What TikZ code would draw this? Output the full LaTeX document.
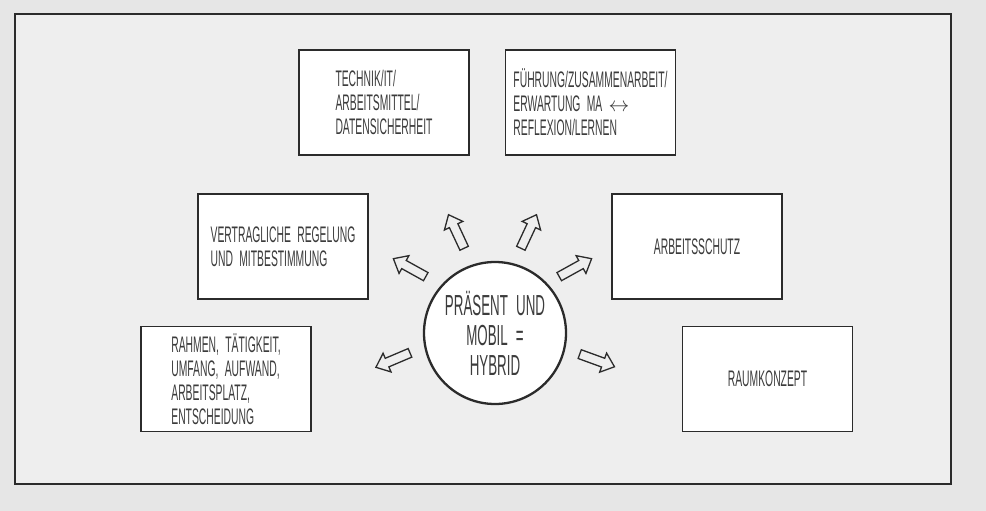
\documentclass[tikz,border=0pt]{standalone}
\usepackage{fontspec}
\setmainfont{Liberation Sans}[FakeStretch=0.46, WordSpace=2.2]
\usepackage{xcolor}
\usepackage{tikz}
\usetikzlibrary{shapes.arrows}
\definecolor{bg}{HTML}{E6E6E6}
\definecolor{panel}{HTML}{EEEEEE}
\definecolor{ink}{HTML}{2B2B2B}
\definecolor{pen}{HTML}{3C3C3C}
\tikzset{
  outer/.style={draw=ink, line width=2.4pt, fill=panel},
  card/.style={draw=ink, line width=1.6pt, fill=white, minimum width=170pt, minimum height=105pt,
    inner sep=2pt, align=left, text=pen, font=\fontsize{22.5}{24}\selectfont},
  hub/.style={circle, draw=ink, line width=2.3pt, fill=white, minimum size=142pt, inner sep=0pt,
    align=center, text=pen, font=\fontsize{29}{30}\selectfont},
  ray/.style={single arrow, draw=ink, line width=1.3pt, minimum height=37pt, inner sep=4pt,
    single arrow head extend=5.5pt, single arrow tip angle=80, single arrow head indent=0pt},
}

\begin{document}
\begin{tikzpicture}[x=1pt, y=-1pt]
  \fill[bg] (0,0) rectangle (986,511);
  \draw[outer] (15,14) rectangle (951,484);
  \node[card] (technik) at (384,102.5) {TECHNIK/IT/\\ARBEITSMITTEL/\\DATENSICHERHEIT};
  \node[card] (fuehrung) at (590.5,102.5) {FÜHRUNG/ZUSAMMENARBEIT/\\ERWARTUNG MA $\leftrightarrow$\\REFLEXION/LERNEN};
  \node[card] (vertrag) at (283,246.5) {VERTRAGLICHE REGELUNG\\UND MITBESTIMMUNG};
  \node[card] (schutz) at (697,246.5) {ARBEITSSCHUTZ};
  \node[card] (rahmen) at (226,379) {RAHMEN, TÄTIGKEIT,\\UMFANG, AUFWAND,\\ARBEITSPLATZ,\\ENTSCHEIDUNG};
  \node[card] (raum) at (767.5,379) {RAUMKONZEPT};
  \node[hub] (hybrid) at (495,333) {PRÄSENT UND\\MOBIL =\\HYBRID};
  \node[ray, rotate=115] (r1) at (457.5,234) {};
  \node[ray, rotate=65] (r2) at (527.5,234) {};
  \node[ray, rotate=151] (r3) at (412,269) {};
  \node[ray, rotate=29] (r4) at (573,269) {};
  \node[ray, rotate=203] (r5) at (395.5,359) {};
  \node[ray, rotate=-20] (r6) at (594.5,359.5) {};
\end{tikzpicture}
\end{document}
